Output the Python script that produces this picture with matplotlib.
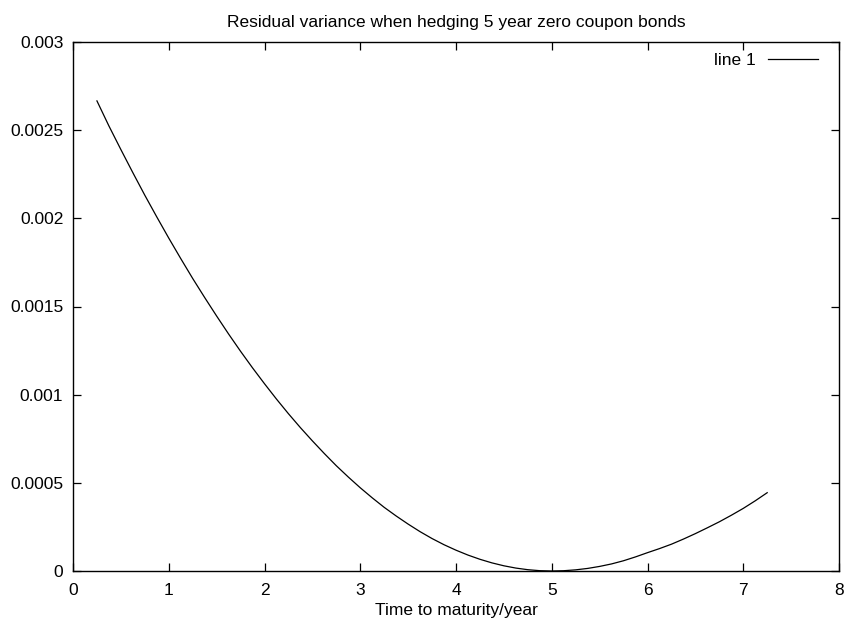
import matplotlib
matplotlib.use("Agg")
import matplotlib.pyplot as plt

maturity = [0.25, 0.375, 0.5, 0.625, 0.75, 0.875, 1.0, 1.125, 1.25, 1.375,
            1.5, 1.625, 1.75, 1.875, 2.0, 2.125, 2.25, 2.375, 2.5, 2.625,
            2.75, 2.875, 3.0, 3.125, 3.25, 3.375, 3.5, 3.625, 3.75, 3.875,
            4.0, 4.125, 4.25, 4.375, 4.5, 4.625, 4.75, 4.875, 5.0, 5.125,
            5.25, 5.375, 5.5, 5.625, 5.75, 5.875, 6.0, 6.125, 6.25, 6.375,
            6.5, 6.625, 6.75, 6.875, 7.0, 7.125, 7.25]
variance = [0.002666, 0.002524, 0.002390, 0.002259, 0.002131, 0.002008,
            0.001888, 0.001772, 0.001659, 0.001551, 0.001446, 0.001344,
            0.001246, 0.001152, 0.001062, 0.000975, 0.000892, 0.000813,
            0.000738, 0.000666, 0.000597, 0.000533, 0.000472, 0.000415,
            0.000361, 0.000312, 0.000266, 0.000223, 0.000184, 0.000149,
            0.000118, 0.0000903, 0.0000664, 0.0000461, 0.0000295, 0.0000166,
            0.0000074, 0.0000018, 0.0, 0.0000016, 0.0000066, 0.0000146,
            0.000026, 0.0000402, 0.0000582, 0.0000800, 0.000104, 0.000127,
            0.000152, 0.000181, 0.000212, 0.000245, 0.000279, 0.000316,
            0.000355, 0.000398, 0.000444]
xticks = [0, 1, 2, 3, 4, 5, 6, 7, 8]
yticks = [0, 0.0005, 0.001, 0.0015, 0.002, 0.0025, 0.003]
ytick_labels = ["0", "0.0005", "0.001", "0.0015", "0.002", "0.0025", "0.003"]

FS = 12.5
plt.rcParams['font.family'] = ['Liberation Sans', 'DejaVu Sans']
fig = plt.figure(figsize=(8.46, 6.30), dpi=100)
ax = fig.add_axes([73/846, 59/630, (839-73)/846, (571-42)/630])
ax.plot(maturity, variance, color='black', linewidth=0.9, label='line 1')
ax.set_xlim(0, 8)
ax.set_ylim(0, 0.003)
ax.set_xticks(xticks)
ax.set_yticks(yticks)
ax.set_yticklabels(ytick_labels)
ax.tick_params(direction='in', length=6, width=0.9, top=True, right=True,
               labelsize=FS)
ax.tick_params(axis='x', pad=8.5)
ax.tick_params(axis='y', pad=7)
for s in ax.spines.values():
    s.set_linewidth(1.0)
ax.set_title("Residual variance when hedging 5 year zero coupon bonds",
             fontsize=FS, pad=11)
ax.set_xlabel("Time to maturity/year", fontsize=FS, labelpad=4)
ax.legend(loc='upper right', bbox_to_anchor=(0.9772, 0.9867), frameon=False,
          markerfirst=False, handlelength=2.88, fontsize=FS, borderaxespad=0,
          borderpad=0.2, handletextpad=0.69)
fig.savefig("out.png", dpi=100)
